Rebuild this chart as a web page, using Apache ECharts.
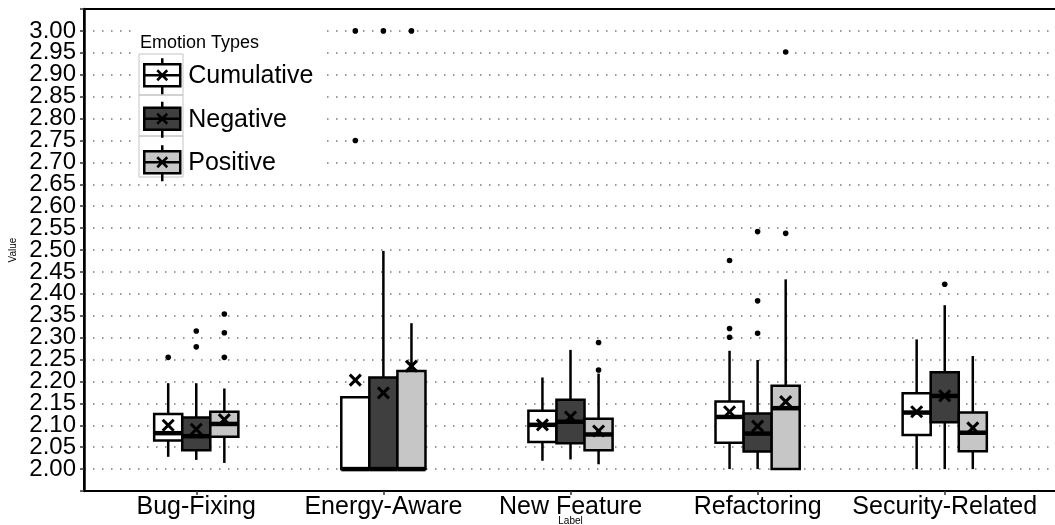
<!DOCTYPE html>
<html>
<head>
<meta charset="utf-8">
<script src="https://cdn.jsdelivr.net/npm/echarts@6/dist/echarts.min.js"></script>
<style>html,body{margin:0;padding:0;background:#fff}#c{width:1055px;height:525px}</style>
</head>
<body>
<div id="c"></div>
<script>
// ---- data ----
const categories = ['Bug-Fixing', 'Energy-Aware', 'New Feature', 'Refactoring', 'Security-Related'];
const emotionNames = ['Cumulative', 'Negative', 'Positive'];

// [min, q1, median, q3, max] per category
const cumulativeBox = [
  [2.028, 2.065, 2.082, 2.126, 2.196],
  [2.000, 2.000, 2.000, 2.164, 2.164],
  [2.019, 2.062, 2.101, 2.133, 2.209],
  [2.000, 2.060, 2.119, 2.154, 2.270],
  [2.000, 2.078, 2.129, 2.173, 2.296]
];
const negativeBox = [
  [2.021, 2.043, 2.075, 2.118, 2.196],
  [2.000, 2.000, 2.000, 2.209, 2.498],
  [2.022, 2.059, 2.108, 2.158, 2.272],
  [2.000, 2.040, 2.081, 2.127, 2.249],
  [2.000, 2.107, 2.167, 2.221, 2.374]
];
const positiveBox = [
  [2.014, 2.074, 2.103, 2.131, 2.184],
  [2.000, 2.000, 2.000, 2.224, 2.333],
  [2.011, 2.043, 2.079, 2.115, 2.218],
  [2.000, 2.000, 2.139, 2.190, 2.433],
  [2.000, 2.041, 2.083, 2.129, 2.258]
];
const cumulativeMean = [2.100, 2.203, 2.101, 2.131, 2.131];
const negativeMean   = [2.091, 2.174, 2.119, 2.098, 2.167];
const positiveMean   = [2.113, 2.235, 2.087, 2.154, 2.094];

const cumulativeOutliers = [[2.255], [3.00, 2.75], [], [2.476, 2.321, 2.301], []];
const negativeOutliers   = [[2.315, 2.279], [3.00], [], [2.542, 2.384, 2.310], [2.422]];
const positiveOutliers   = [[2.354, 2.311, 2.255], [3.00], [2.289, 2.226], [2.538, 2.952], []];

// y axis: labelled ticks 2.00 ... 3.00 every 0.05, axis padded by one step each side
const yMin = 1.95, yMax = 3.05, yStep = 0.05;
const yLabelFirst = 2.00, yLabelLast = 3.00;

// ---- styling ----
const fills = ['#ffffff', '#3f3f3f', '#c6c6c6'];
const boxesAll = [cumulativeBox, negativeBox, positiveBox];
const meansAll = [cumulativeMean, negativeMean, positiveMean];
const outliersAll = [cumulativeOutliers, negativeOutliers, positiveOutliers];
const DODGE = 0.15, BOX_W = 0.15;
const FONT = '"Liberation Sans", Arial, Helvetica, sans-serif';

function makeSeries(si) {
  const box = boxesAll[si], means = meansAll[si], outs = outliersAll[si];
  return {
    type: 'custom',
    name: emotionNames[si],
    itemStyle: { color: fills[si], borderColor: '#000', borderWidth: 2 },
    data: categories.map((c, i) => [i].concat(box[i], [means[i]])),
    encode: { x: 0, y: [1, 2, 3, 4, 5, 6] },
    clip: false,
    renderItem: function (params, api) {
      const i = api.value(0);
      const xv = i + DODGE * (si - 1);
      const yOf = k => api.coord([xv, api.value(k)])[1];
      const cx = api.coord([xv, api.value(3)])[0];
      const w = api.size([BOX_W, 0])[0];
      const yMinP = yOf(1), yQ1 = yOf(2), yMed = yOf(3), yQ3 = yOf(4), yMaxP = yOf(5), yMean = yOf(6);
      const lineStyle = { stroke: '#000', lineWidth: 2.5 };
      const children = [];
      children.push({ type: 'line', shape: { x1: cx, y1: yQ3, x2: cx, y2: yMaxP }, style: lineStyle });
      children.push({ type: 'line', shape: { x1: cx, y1: yQ1, x2: cx, y2: yMinP }, style: lineStyle });
      children.push({ type: 'rect', shape: { x: cx - w / 2, y: yQ3, width: w, height: yQ1 - yQ3 },
        style: { fill: fills[si], stroke: '#000', lineWidth: 2.5 } });
      children.push({ type: 'line', shape: { x1: cx - w / 2, y1: yMed, x2: cx + w / 2, y2: yMed },
        style: { stroke: '#000', lineWidth: 4.5 } });
      (outs[params.dataIndex] || []).forEach(v => {
        const p = api.coord([xv, v]);
        children.push({ type: 'circle', shape: { cx: cx, cy: p[1], r: 2.8 }, style: { fill: '#000' } });
      });
      const h = 5.5;
      children.push({ type: 'line', shape: { x1: cx - h, y1: yMean - h, x2: cx + h, y2: yMean + h },
        style: { stroke: '#000', lineWidth: 3 }, z2: 10 });
      children.push({ type: 'line', shape: { x1: cx + h, y1: yMean - h, x2: cx - h, y2: yMean + h },
        style: { stroke: '#000', lineWidth: 3 }, z2: 10 });
      return { type: 'group', children: children };
    }
  };
}

const keyIcon = 'path://M0,6 L36,6 L36,28 L0,28 Z M18,0 L18,6 M18,28 L18,36 M0,17 L36,17 M13,12 L23,22 M23,12 L13,22';

const chart = echarts.init(document.getElementById('c'), null, { renderer: 'canvas' });
chart.setOption({
  animation: false,
  backgroundColor: '#ffffff',
  textStyle: { fontFamily: FONT },
  title: {
    text: 'Emotion Types', left: 140, top: 34, padding: 0,
    textStyle: { fontFamily: FONT, fontSize: 18, fontWeight: 'normal', color: '#000' }
  },
  graphic: [
    { type: 'rect', z: 3, shape: { x: 137, y: 27, width: 190, height: 153 }, style: { fill: '#fff' } },
    { type: 'rect', z: 3, shape: { x: 139, y: 54, width: 44, height: 41 }, style: { fill: 'none', stroke: '#c4c4c4', lineWidth: 1 } },
    { type: 'rect', z: 3, shape: { x: 139, y: 95, width: 44, height: 41 }, style: { fill: 'none', stroke: '#c4c4c4', lineWidth: 1 } },
    { type: 'rect', z: 3, shape: { x: 139, y: 136, width: 44, height: 41 }, style: { fill: 'none', stroke: '#c4c4c4', lineWidth: 1 } }
  ],
  legend: {
    orient: 'vertical', left: 143, top: 57, padding: 0, itemGap: 5,
    itemWidth: 36, itemHeight: 36, selectedMode: false,
    textStyle: { fontFamily: FONT, fontSize: 25, color: '#000', padding: [0, 0, 0, 3] },
    data: emotionNames.map((n, i) => ({
      name: n, icon: keyIcon,
      itemStyle: { color: fills[i], borderColor: '#000', borderWidth: 2.5 }
    }))
  },
  grid: {
    left: 84, top: 9, width: 973, bottom: 34,
    outerBoundsMode: 'none', containLabel: false,
    show: true, borderColor: '#000', borderWidth: 2, backgroundColor: '#fff'
  },
  xAxis: {
    type: 'value', min: -0.6, max: 4.6,
    name: 'Label', nameLocation: 'middle', nameGap: 25, nameMoveOverlap: false,
    nameTextStyle: { fontFamily: FONT, fontSize: 10, color: '#000' },
    axisLine: { show: true, onZero: false, lineStyle: { color: '#000', width: 2 } },
    axisTick: { show: true, length: 4, customValues: [0, 1, 2, 3, 4], lineStyle: { color: '#333', width: 1.5 } },
    axisLabel: {
      customValues: [0, 1, 2, 3, 4], margin: 4,
      fontFamily: FONT, fontSize: 25, color: '#000',
      formatter: v => (Math.abs(v - Math.round(v)) < 1e-6 && categories[Math.round(v)]) ? categories[Math.round(v)] : ''
    },
    splitLine: { show: false }
  },
  yAxis: {
    type: 'value', min: yMin, max: yMax, interval: yStep,
    name: 'Value', nameLocation: 'middle', nameGap: 66, nameMoveOverlap: false,
    nameTextStyle: { fontFamily: FONT, fontSize: 10, color: '#000' },
    axisLine: { show: true, onZero: false, lineStyle: { color: '#000', width: 2.5 } },
    axisTick: { show: true, length: 4, lineStyle: { color: '#333', width: 1.5 } },
    axisLabel: {
      margin: 8, fontFamily: FONT, fontSize: 24, color: '#000',
      formatter: v => (v < yLabelFirst - 1e-3 || v > yLabelLast + 1e-3) ? '' : v.toFixed(2)
    },
    splitLine: { show: true, showMinLine: false, showMaxLine: false,
      lineStyle: { color: '#999', width: 2, type: [1.5, 7.5] } }
  },
  series: [makeSeries(0), makeSeries(1), makeSeries(2)]
});
</script>
</body>
</html>
